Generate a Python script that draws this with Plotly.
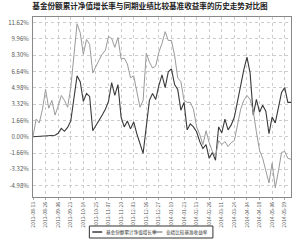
import plotly.graph_objects as go

tick_labels = ["2013-08-13", "2013-08-26", "2013-09-06", "2013-09-23", "2013-10-14",
               "2013-10-25", "2013-11-07", "2013-11-20", "2013-12-03", "2013-12-16",
               "2013-12-27", "2014-01-10", "2014-01-23", "2014-02-13", "2014-02-26",
               "2014-03-11", "2014-03-24", "2014-04-04", "2014-04-18", "2014-05-06",
               "2014-05-19"]

fund = [0.00, 0.02, 0.04, 0.05, 0.07, 0.08, 0.10, 0.15, 0.35, 0.85,
        0.55, 0.95, 1.60, 4.20, 6.20, 5.60, 3.60, 4.40, 4.10, 0.60,
        1.10, 1.60, 2.20, 2.80, 3.60, 5.50, 4.20, 5.30, 2.00, 1.00,
        1.60, 0.80, 1.50, 0.30, -0.60, -1.70, 1.00, 3.70, 4.40, 3.80,
        5.20, 6.30, 5.00, 6.60, 6.90, 5.30, 4.80, 2.70, 3.50, 0.70,
        1.30, 1.00, 0.50, -0.50, -1.20, -0.80, -2.20, -1.60, -2.40, 1.00,
        0.40, 1.80, 0.70, 1.20, 2.00, 3.80, 5.20, 6.80, 8.10, 6.50,
        2.20, 3.80, 2.50, 3.20, 2.60, 0.30, 2.00, 1.40, 2.80, 4.50,
        5.00, 3.50, 3.50]

bench = [0.00, 1.80, 1.40, 2.80, 4.80, 2.90, 3.70, 2.20, 3.10, 4.20,
         3.70, 3.00, 5.00, 8.50, 11.50, 10.60, 8.40, 9.90, 9.40, 6.50,
         7.20, 7.80, 8.40, 8.80, 10.20, 10.00, 9.10, 10.10, 7.90, 8.00,
         7.40, 6.00, 6.20, 4.50, 3.00, 3.70, 8.50, 7.60, 7.00, 7.20,
         8.60, 9.50, 10.70, 9.80, 9.80, 8.30, 6.00, 5.60, 3.70, 3.50,
         3.50, 2.80, 1.00, 0.20, -0.80, 0.60, -0.60, -1.50, -2.00, -0.40,
         -0.80, -0.50, -1.00, -0.60, -0.40, 1.20, 2.80, 3.70, 4.20, 3.80,
         2.60, 0.50, -1.40, -2.20, -3.40, -4.70, -2.70, -5.20, -3.50, -1.60,
         -1.50, -2.20, -2.30]

y_ticks = [11.62, 9.96, 8.30, 6.64, 4.98, 3.32, 1.66, 0.00, -1.66, -3.32, -4.98]

series_names = ["基金份额累计净值增长率", "业绩比较基准收益率"]
series_colors = ["#3a3a3a", "#9a9a9a"]

idx = list(range(len(fund)))
tick_pos = idx[::4][:len(tick_labels)]

fig = go.Figure()
fig.add_trace(go.Scatter(x=idx, y=fund, mode="lines", name=series_names[0],
                         line=dict(color=series_colors[0], width=1.1), showlegend=False))
fig.add_trace(go.Scatter(x=idx, y=bench, mode="lines", name=series_names[1],
                         line=dict(color=series_colors[1], width=1), showlegend=False))

# manual compact legend (plot area: x 31..292 px, y 17..197 px)
W, H, L, T = 261.0, 180.0, 31.0, 17.0
def px(xp):
    return (xp - L) / W
def py(yp):
    return (T + H - yp) / H

shapes = [dict(type="rect", xref="paper", yref="paper", x0=px(88), x1=px(213),
               y0=py(226), y1=py(238), line=dict(color="#333333", width=1),
               fillcolor="white", layer="above")]
annotations = []
legend_slots = [(91, 101, 103), (152, 162, 164)]
for (lx0, lx1, tx), name, col in zip(legend_slots, series_names, series_colors):
    shapes.append(dict(type="line", xref="paper", yref="paper", x0=px(lx0), x1=px(lx1),
                       y0=py(232), y1=py(232), line=dict(color=col, width=1.5)))
    annotations.append(dict(text=name, xref="paper", yref="paper", x=px(tx), y=py(232),
                            xanchor="left", yanchor="middle", showarrow=False,
                            font=dict(size=4.6, color="#333333")))

fig.update_layout(
    width=300, height=241,
    margin=dict(l=31, r=8, t=17, b=44),
    paper_bgcolor="white", plot_bgcolor="white",
    font=dict(family="Noto Sans CJK SC, sans-serif", color="#555555"),
    title=dict(text="<b>基金份额累计净值增长率与同期业绩比较基准收益率的历史走势对比图</b>",
               x=0.5, xanchor="center", y=1 - 6 / 241, yanchor="middle",
               yref="container", font=dict(size=7.6, color="#222222")),
    showlegend=False,
    shapes=shapes,
    annotations=annotations,
)
fig.update_xaxes(range=[0, len(fund) - 1], tickmode="array", tickvals=tick_pos,
                 ticktext=tick_labels, tickangle=-90, tickfont=dict(size=5, color="#555555"),
                 showgrid=True, gridcolor="#cccccc", griddash="dot", gridwidth=1,
                 showline=True, linecolor="#888888", linewidth=1, mirror=True,
                 ticks="outside", ticklen=2, tickcolor="#aaaaaa", zeroline=False)
fig.update_yaxes(range=[-6.14, 12.19], tickmode="array", tickvals=y_ticks,
                 ticktext=[f"{v:.2f}%" for v in y_ticks], tickfont=dict(size=6, color="#555555"),
                 showgrid=True, gridcolor="#cccccc", griddash="dot", gridwidth=1,
                 showline=True, linecolor="#888888", linewidth=1, mirror=True,
                 zeroline=False, ticks="", ticklabelstandoff=2)

fig.write_html("out.html")
